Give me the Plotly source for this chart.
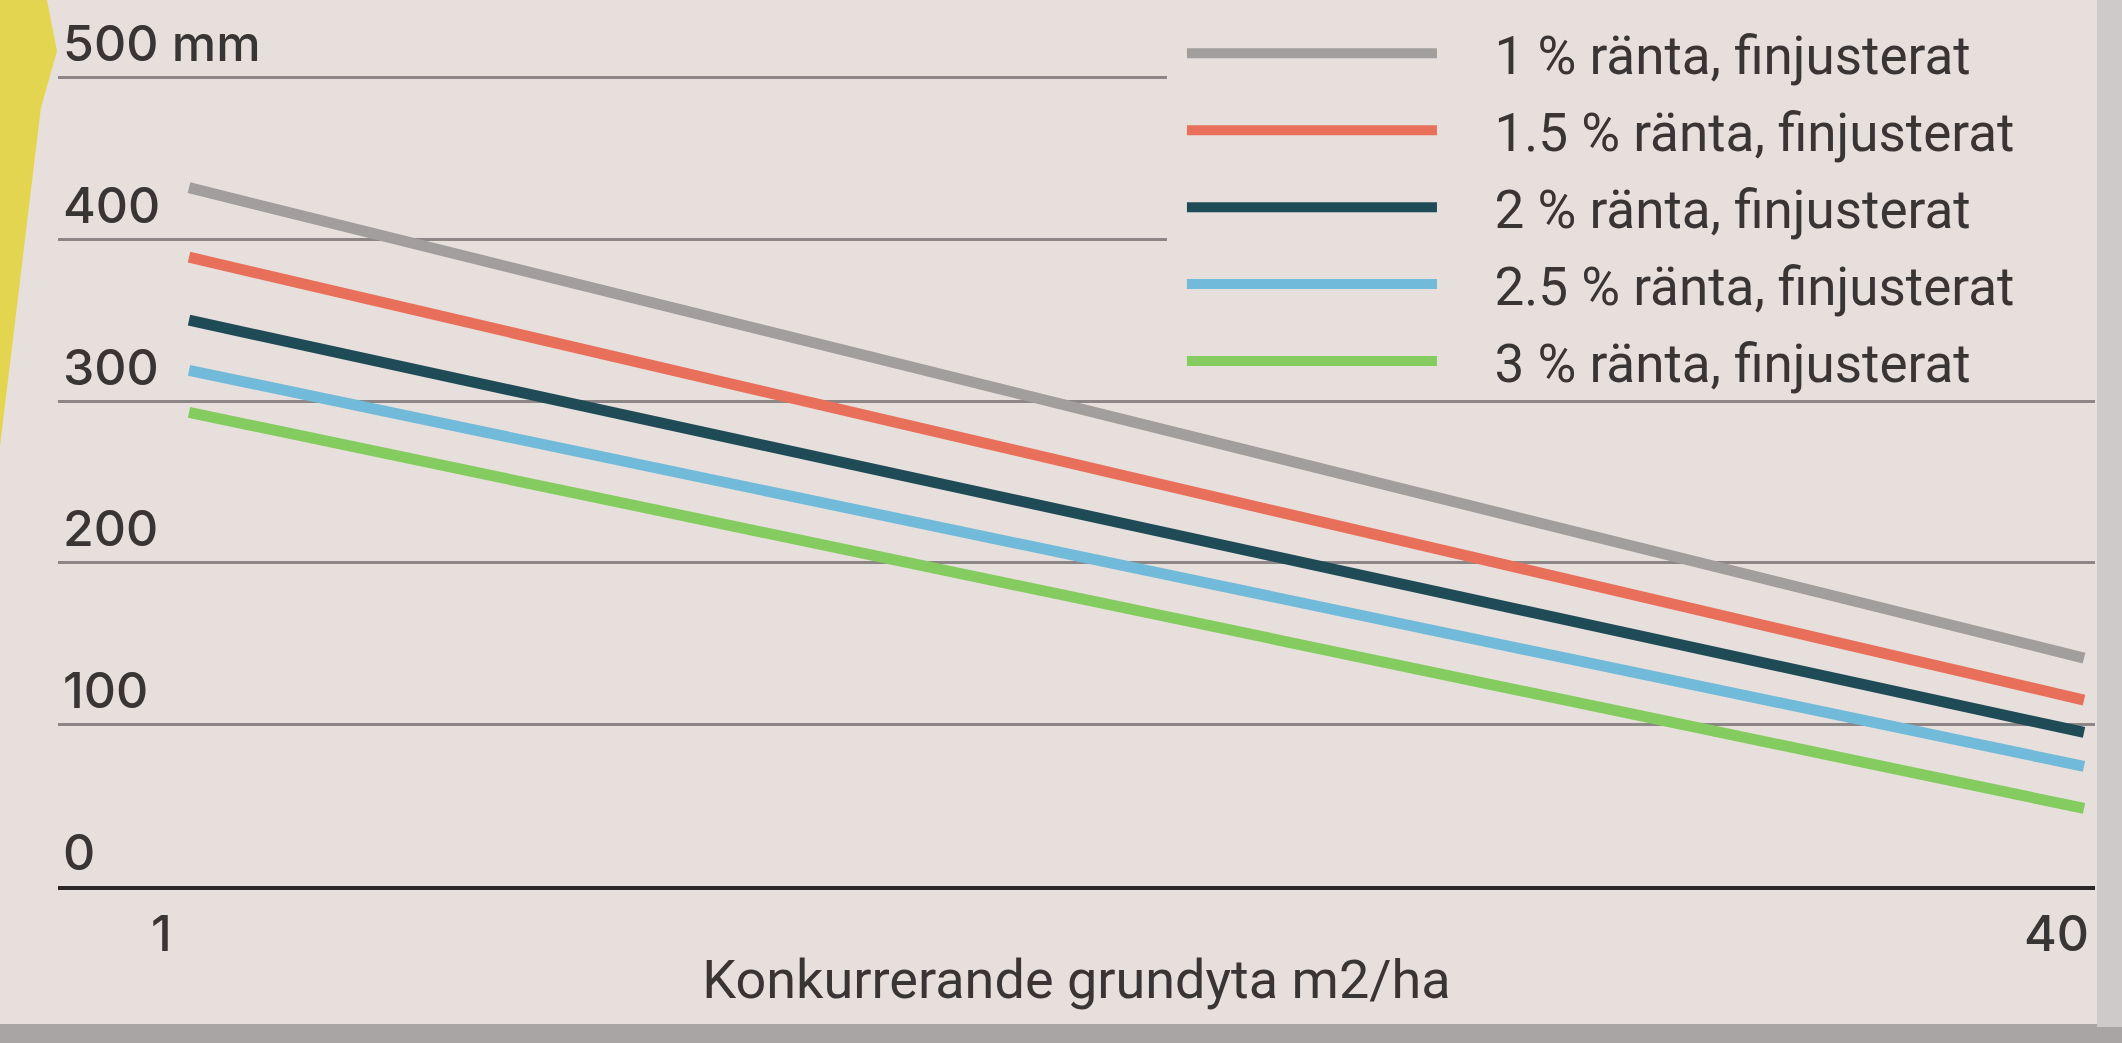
import plotly.graph_objects as go

# ---- data ----
x_vals = [1, 40]
series_names = [
    "1 % ränta, finjusterat",
    "1.5 % ränta, finjusterat",
    "2 % ränta, finjusterat",
    "2.5 % ränta, finjusterat",
    "3 % ränta, finjusterat",
]
s1 = [432, 141]
s15 = [389, 115]
s2 = [350, 95]
s25 = [319, 74]
s3 = [293, 48]
series_values = [s1, s15, s2, s25, s3]
y_tickvals = [0, 100, 200, 300, 400, 500]
y_ticktext = ["0", "100", "200", "300", "400", "500 mm"]
x_tickvals = [1, 40]
x_ticktext = ["1", "40"]
x_title = "Konkurrerande grundyta m2/ha"

colors = ["#a29e9e", "#e8705a", "#1f4b57", "#72bad9", "#84cc5f"]
BG = "#e7dfdc"
TXT = "#3a3535"
GAP = "\u00a0\u00a0\u00a0\u00a0"

fig = go.Figure()
for name, vals, col in zip(series_names, series_values, colors):
    fig.add_trace(go.Scatter(
        x=x_vals, y=vals, mode="lines", name=GAP + name, legendgroup=name,
        line=dict(color=col, width=11), hoverinfo="skip",
    ))

fig.update_layout(
    width=2122, height=1043,
    margin=dict(l=58, r=27, t=5, b=157),
    paper_bgcolor=BG, plot_bgcolor=BG,
    showlegend=True,
    legend=dict(
        x=0.5444, y=0.9916, xanchor="left", yanchor="top",
        bgcolor="rgba(0,0,0,0)", borderwidth=0, indentation=15,
        font=dict(family="Roboto", size=53, color=TXT),
        itemwidth=250, tracegroupgap=5,
    ),
    font=dict(family="Inter", color=TXT),
)
fig.update_xaxes(
    range=[-1.696, 40.226], tickvals=x_tickvals, ticktext=x_ticktext,
    showgrid=False, zeroline=False, showline=True, linecolor="#2d2828", linewidth=4,
    ticks="", showticklabels=False,
    title=dict(text=x_title, font=dict(family="Roboto", size=54, color=TXT), standoff=72),
)
fig.update_yaxes(
    range=[0, 545], tickvals=y_tickvals, ticktext=y_ticktext,
    showgrid=True, gridcolor="#8c8686", gridwidth=3, zeroline=False, showline=False,
    ticks="", ticklabelposition="inside", ticklabelshift=-34, ticklabelstandoff=2,
    tickfont=dict(family="Inter", size=50, color=TXT, weight=500),
)

# x tick labels, placed on the x scale
for tv, tt in zip(x_tickvals, x_ticktext):
    fig.add_annotation(x=tv, xref="x", y=0, yref="paper", text=tt, showarrow=False,
                       xanchor="center", yanchor="middle", xshift=-28, yshift=-47,
                       font=dict(family="Inter", size=50, color=TXT, weight=500))

# mask: the upper grid lines stop where the legend begins
fig.add_shape(type="rect", xref="paper", yref="y", layer="above",
              x0=0.5444, x1=1.0, y0=380, y1=545,
              fillcolor=BG, line=dict(width=0))

# decorative scan features: yellow strip at left, gray edges
fig.add_shape(type="path", xref="paper", yref="paper", layer="below",
              path="M -0.0285,1.0057 L -0.0054,1.0057 L -0.0005,0.9478 L -0.0084,0.8831 L -0.0285,0.4983 Z",
              fillcolor="#e4d550", line=dict(width=0))
fig.add_shape(type="rect", xref="paper", yref="paper", layer="below",
              x0=-0.03, x1=1.02, y0=-0.1566, y1=-0.19,
              fillcolor="#aaa5a5", line=dict(width=0))
fig.add_shape(type="rect", xref="paper", yref="paper", layer="below",
              x0=1.001, x1=1.02, y0=-0.16, y1=1.01,
              fillcolor="#cfcaca", line=dict(width=0))

fig.write_html("out.html", config={"displayModeBar": False},
               post_script="document.body.style.margin='0';document.body.style.background='#e7dfdc';")
